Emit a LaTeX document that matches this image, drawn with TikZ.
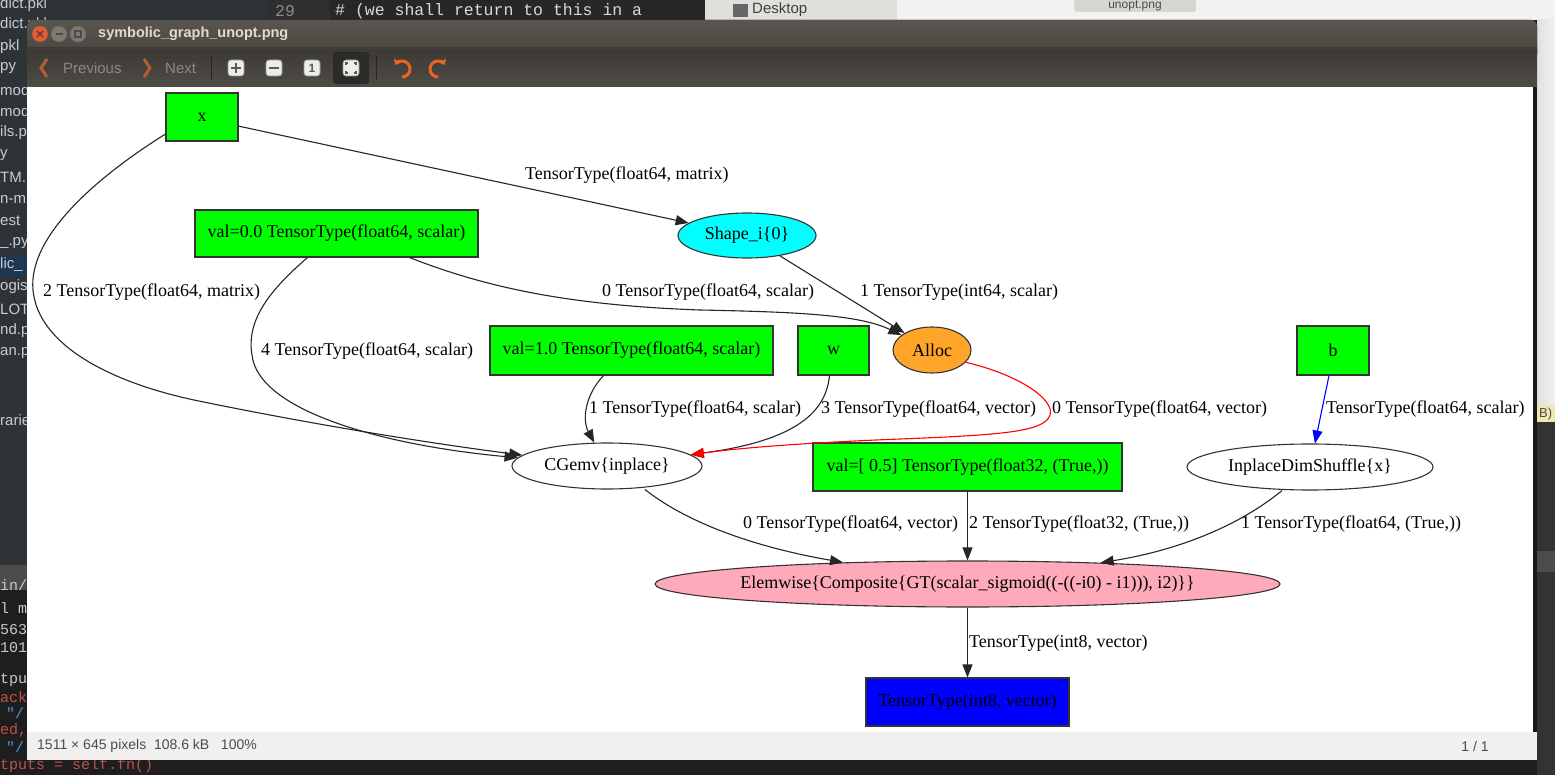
\documentclass[tikz,border=0pt]{standalone}
\usepackage{fontspec}
\setmainfont{Liberation Serif}
\newfontfamily\uifont{Liberation Sans}
\newfontfamily\monofont{Liberation Mono}
\usetikzlibrary{shapes.geometric,arrows.meta}
%
\definecolor{vgreen}{HTML}{00FF00}
\definecolor{vcyan}{HTML}{00FFFF}
\definecolor{vorange}{HTML}{FFA52A}
\definecolor{vpink}{HTML}{FFAABB}
\definecolor{vblue}{HTML}{0000FF}
\definecolor{titletop}{HTML}{5A564F}
\definecolor{titlebot}{HTML}{45423D}
\definecolor{tooltop}{HTML}{3B3934}
\definecolor{toolbot}{HTML}{4F4C46}
\definecolor{titletext}{HTML}{DFDBD2}
\definecolor{navtext}{HTML}{8C8882}
\definecolor{navarrow}{HTML}{B0602E}
\definecolor{rotorange}{HTML}{EA6420}
\definecolor{closered}{HTML}{E8592C}
\definecolor{winbtn}{HTML}{7C7970}
\definecolor{btnface}{HTML}{ECECEC}
\definecolor{btnedge}{HTML}{9A9890}
\definecolor{pressbg}{HTML}{2C2B27}
\definecolor{statusbg}{HTML}{F1F0EE}
\definecolor{statustext}{HTML}{4C4C4C}
\definecolor{termbg}{HTML}{1E1E1E}
\definecolor{sidebg}{HTML}{2E3338}
\definecolor{sidesel}{HTML}{1D3852}
\definecolor{sidetext}{HTML}{C8CCD0}
\definecolor{termtext}{HTML}{C8C8C8}
\definecolor{termred}{HTML}{C0504D}
\definecolor{termblue}{HTML}{4A90D9}
\definecolor{editbg}{HTML}{272727}
\definecolor{gutterbg}{HTML}{2F2F2F}
\definecolor{filebg}{HTML}{E0DFDC}
\definecolor{lightbg}{HTML}{F2F2F1}
\definecolor{tabbg}{HTML}{D6D5D2}
\definecolor{hintbg}{HTML}{EFE8B0}
%
\tikzset{
  gbox/.style={draw=black!80, line width=1.1pt, fill=vgreen, inner sep=0pt},
  goval/.style={draw=black!80, line width=1.1pt, ellipse, inner sep=0pt},
  gedge/.style={line width=1.1pt, draw=black!85, -{Triangle[length=13pt,width=10pt]}},
  elabel/.style={anchor=west, inner sep=0pt},
  side/.style={anchor=west, inner sep=0pt, font=\uifont\fontsize{15}{15}\selectfont, text=sidetext},
  term/.style={anchor=west, inner sep=0pt, font=\monofont\fontsize{15}{15}\selectfont, text=termtext},
  uitext/.style={anchor=west, inner sep=0pt, font=\uifont\fontsize{15}{15}\selectfont},
  tbtn/.style={rounded corners=3pt, fill=btnface, draw=btnedge, line width=0.8pt},
  rotarrow/.style={line width=3pt, draw=rotorange, -{Triangle[length=5pt,width=8pt]}},
}

\begin{document}
\begin{tikzpicture}[x=1pt, y=-1pt, font=\fontsize{18}{21}\selectfont]
\useasboundingbox (0,0) rectangle (1555,775);
%
% desktop behind the window
\fill[termbg] (0,0) rectangle (1555,775);
\fill[sidebg] (0,0) rectangle (267,565);
\fill[sidesel] (0,255) rectangle (267,276);
\fill[black!70] (0,565) rectangle (267,590);
\fill[gutterbg] (267,0) rectangle (330,20);
\fill[editbg] (330,0) rectangle (705,20);
\fill[filebg] (705,0) rectangle (897,20);
\fill[lightbg] (897,0) rectangle (1555,20);
\fill[left color=black!12, right color=lightbg] (1537,20) rectangle (1555,405);
\fill[hintbg] (1537,405) rectangle (1555,422);
\fill[black!80] (1537,422) rectangle (1555,775);
\fill[black!70] (1537,551) rectangle (1555,572);
\fill[tabbg, rounded corners=3pt] (1074,-6) rectangle (1196,12);
\fill[black!60] (733,4) rectangle (748,17);
%
\path (0,5)   node[side] (f1)  {dict.pkl};
\path (0,25)  node[side] (f2)  {dict.pkl};
\path (0,47)  node[side] (f3)  {pkl};
\path (0,68)  node[side] (f4)  {py};
\path (0,90)  node[side] (f5)  {mod};
\path (0,111) node[side] (f6)  {mod};
\path (0,133) node[side] (f7)  {ils.p};
\path (0,155) node[side] (f8)  {y};
\path (0,177) node[side] (f9)  {TM.};
\path (0,199) node[side] (f10) {n-m};
\path (0,221) node[side] (f11) {est};
\path (0,243) node[side] (f12) {\_.py};
\path (0,265) node[side] (f13) {lic\_};
\path (0,287) node[side] (f14) {ogist};
\path (0,309) node[side] (f15) {LOT.};
\path (0,331) node[side] (f16) {nd.p};
\path (0,353) node[side] (f17) {an.p};
\path (0,420) node[side] (f18) {rarie};
%
\path (0,587) node[term] (t1) {in/p};
\path (0,608) node[term] (t2) {l mo};
\path (0,630) node[term] (t3) {563};
\path (0,648) node[term] (t4) {1014};
\path (0,680) node[term] (t5) {tput};
\path (0,697) node[term, text=termred] (t6) {ack};
\path (6,713) node[term, text=termblue] (t7) {"/};
\path (0,730) node[term, text=termred] (t8) {ed,};
\path (6,747) node[term, text=termblue] (t9) {"/};
\path (0,766) node[term, text=termred] (t10) {tputs = self.fn()};
%
\path (275,11) node[term, text=black!45, font=\monofont\fontsize{16.5}{17}\selectfont] (lineno) {29};
\path (335,11) node[term, text=black!15, font=\monofont\fontsize{16.5}{17}\selectfont] (code) {\# (we shall return to this in a};
\path (752,10) node[side, text=black!75] (desk) {Desktop};
\path (1135,5.5) node[uitext, anchor=center, text=black!70, font=\uifont\fontsize{12}{12}\selectfont] (tab) {unopt.png};
\path (1539,414) node[uitext, text=black!70, font=\uifont\fontsize{13}{13}\selectfont] (hint) {B)};
%
% the viewer window
\fill[rounded corners=6pt, top color=titletop, bottom color=titlebot] (27,20) rectangle (1537,60);
\fill[top color=tooltop, bottom color=toolbot] (27,48) rectangle (1537,87);
\draw[black!75, line width=0.8pt] (27,48) -- (1537,48);
\fill[white] (27,87) rectangle (1533,732);
\fill[black!90] (1533,87) rectangle (1537,732);
\fill[statusbg] (27,732) rectangle (1537,760);
%
\path (40,34) node[circle, minimum size=16pt, inner sep=0pt, fill=closered, draw=black!60] (closebtn) {};
\draw[line width=1.4pt, black!75] (37,31) -- (43,37) (37,37) -- (43,31);
\path (59,34) node[circle, minimum size=16pt, inner sep=0pt, fill=winbtn, draw=black!60] (minbtn) {};
\draw[line width=1.4pt, black!70] (55.5,34) -- (62.5,34);
\path (78,34) node[circle, minimum size=16pt, inner sep=0pt, fill=winbtn, draw=black!60] (maxbtn) {};
\draw[line width=1.2pt, black!70] (75,31) rectangle (81,37);
\path (98,34) node[uitext, font=\uifont\bfseries\fontsize{14.5}{15}\selectfont, text=titletext] (title) {symbolic\_graph\_unopt.png};
%
\draw[line width=3pt, navarrow] (47,59) -- (41,68) -- (47,77);
\path (63,68) node[uitext, text=navtext] (prev) {Previous};
\draw[line width=3pt, navarrow] (144,59) -- (150,68) -- (144,77);
\path (165,68) node[uitext, text=navtext] (next) {Next};
\draw[black!85, line width=1pt] (211,56) -- (211,80);
\draw[black!85, line width=1pt] (376,56) -- (376,80);
%
\draw[tbtn] (228,60) rectangle (244,76);
\draw[line width=2.2pt, black!65] (231,68) -- (241,68) (236,63) -- (236,73);
\draw[tbtn] (266,60) rectangle (282,76);
\draw[line width=2.2pt, black!65] (269,68) -- (279,68);
\draw[tbtn] (304,60) rectangle (320,76);
\path (312,68) node[uitext, anchor=center, text=black!65, font=\uifont\bfseries\fontsize{12}{12}\selectfont] (onebtn) {1};
\fill[pressbg, rounded corners=3pt] (333,52) rectangle (369,84);
\draw[tbtn] (343,60) rectangle (359,76);
\draw[line width=1.3pt, black!65] (346,65) -- (346,63) -- (348,63) (354,63) -- (356,63) -- (356,65)
  (356,71) -- (356,73) -- (354,73) (348,73) -- (346,73) -- (346,71);
\draw[rotarrow] (402,77) arc[start angle=90, end angle=-150, radius=8];
\draw[rotarrow] (438,77) arc[start angle=90, end angle=330, radius=8];
%
\path (37,746) node[uitext, text=statustext, font=\uifont\fontsize{14}{14}\selectfont] (status) {1511 × 645 pixels\ \ 108.6 kB\ \ \ 100\%};
\path (1475,746) node[uitext, anchor=center, text=statustext, font=\uifont\fontsize{14}{14}\selectfont] (page) {1 / 1};
%
% the graph
\node[gbox, minimum width=72pt, minimum height=48pt] (x) at (202,117) {x};
\node[gbox, minimum width=283pt, minimum height=47pt] (v0) at (336.5,233.5) {val=0.0 TensorType(float64, scalar)};
\node[goval, fill=vcyan, minimum width=138pt, minimum height=45pt, label=center:{Shape\_i\{0\}}] (shape) at (747,235.5) {};
\node[goval, fill=vorange, minimum width=78pt, minimum height=46pt, label=center:{Alloc}] (alloc) at (932,350) {};
\node[gbox, minimum width=283pt, minimum height=49pt] (v1) at (631.5,350.5) {val=1.0 TensorType(float64, scalar)};
\node[gbox, minimum width=71pt, minimum height=49pt] (w) at (833.5,350.5) {w};
\node[gbox, minimum width=72pt, minimum height=49pt] (b) at (1333,350.5) {b};
\node[goval, fill=white, minimum width=190pt, minimum height=46pt, label=center:{CGemv\{inplace\}}] (cgemv) at (607,466) {};
\node[gbox, minimum width=309pt, minimum height=48pt] (vhalf) at (967.5,467) {val=[ 0.5] TensorType(float32, (True,))};
\node[goval, fill=white, minimum width=246pt, minimum height=46pt, label=center:{InplaceDimShuffle\{x\}}] (dims) at (1310,467) {};
\node[goval, fill=vpink, minimum width=625pt, minimum height=46pt, label=center:{Elemwise\{Composite\{GT(scalar\_sigmoid((-((-i0) - i1))), i2)\}\}}] (elem) at (967.5,584) {};
\node[gbox, fill=vblue, minimum width=203pt, minimum height=48pt] (out) at (967.5,702) {TensorType(int8, vector)};
%
\draw[gedge] (x.-14) -- (shape);
\draw[gedge] (x.-155) .. controls (100,175) and (28,235) .. (33,290)
  .. controls (38,345) and (110,382) .. (194,400) .. controls (300,422) and (420,442) .. (cgemv);
\draw[gedge] ([xshift=-29pt]v0.south) .. controls (270,290) and (246,320) .. (252,355)
  .. controls (258,410) and (380,445) .. (cgemv);
\draw[gedge] ([xshift=73pt]v0.south) .. controls (480,285) and (560,305) .. (700,310)
  .. controls (800,312) and (860,315) .. (alloc);
\draw[gedge] (shape) -- (alloc);
\draw[gedge] ([xshift=-28pt]v1.south) .. controls (585,395) and (582,420) .. (cgemv);
\draw[gedge] ([xshift=-4pt]w.south) .. controls (826,410) and (800,440) .. (cgemv);
\draw[gedge, draw=red, -{Triangle[length=13pt,width=10pt,fill=red]}] (alloc.-20) .. controls (1020,375) and (1055,400) .. (1050,415)
  .. controls (1045,432) and (1000,435) .. (900,439) .. controls (800,443) and (740,448) .. (cgemv);
\draw[gedge, draw=vblue] ([xshift=-4pt]b.south) -- (dims);
\draw[gedge] ([xshift=38pt]cgemv.south) .. controls (690,525) and (760,548) .. (elem);
\draw[gedge] (vhalf) -- (elem);
\draw[gedge] ([xshift=-28pt]dims.south) .. controls (1240,525) and (1180,550) .. (elem);
\draw[gedge] (elem) -- (out);
%
\path (525,175)  node[elabel] (l1)  {TensorType(float64, matrix)};
\path (43,292)   node[elabel] (l2)  {2 TensorType(float64, matrix)};
\path (602,292)  node[elabel] (l3)  {0 TensorType(float64, scalar)};
\path (860,292)  node[elabel] (l4)  {1 TensorType(int64, scalar)};
\path (261,351)  node[elabel] (l5)  {4 TensorType(float64, scalar)};
\path (589,409)  node[elabel] (l6)  {1 TensorType(float64, scalar)};
\path (821,409)  node[elabel] (l7)  {3 TensorType(float64, vector)};
\path (1052,409) node[elabel] (l8)  {0 TensorType(float64, vector)};
\path (1326,409) node[elabel] (l9)  {TensorType(float64, scalar)};
\path (743,524)  node[elabel] (l10) {0 TensorType(float64, vector)};
\path (969,524)  node[elabel] (l11) {2 TensorType(float32, (True,))};
\path (1241,524) node[elabel] (l12) {1 TensorType(float64, (True,))};
\path (969,643)  node[elabel] (l13) {TensorType(int8, vector)};
\end{tikzpicture}
\end{document}
